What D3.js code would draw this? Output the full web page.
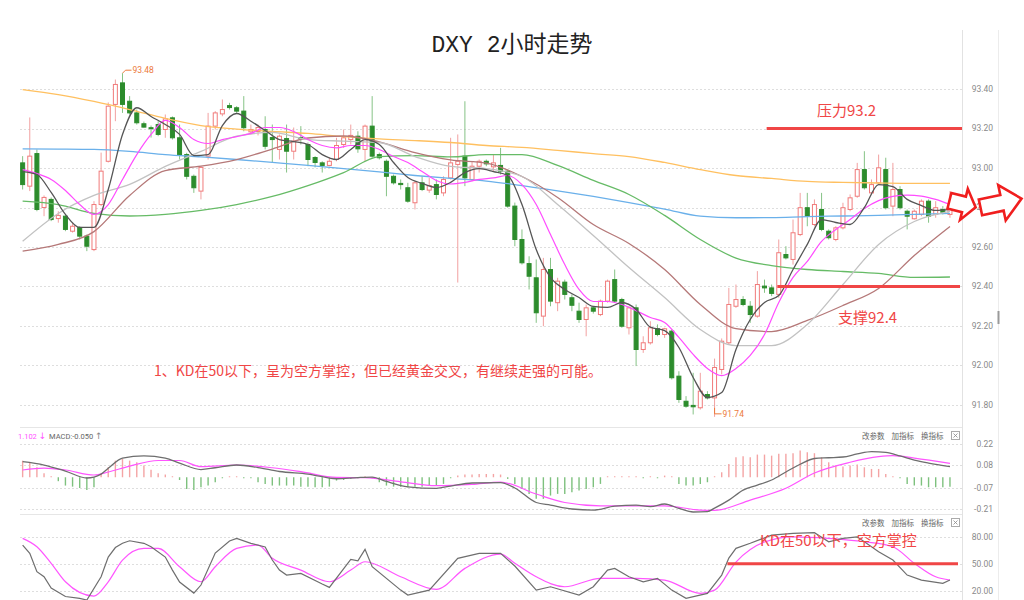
<!DOCTYPE html>
<html><head><meta charset="utf-8">
<script src="https://cdn.jsdelivr.net/npm/d3@7"></script>
<style>body{margin:0;background:#fff;}svg{display:block;}</style>
</head><body>
<svg id="chart" width="1024" height="600"></svg>
<script>
// ---------- DATA ----------
const title = "DXY 2小时走势";
// candles: [open, high, low, close]
const ohlc = [
[93.026,93.060,92.891,92.916],[92.908,93.256,92.883,93.060],[93.073,93.094,92.781,92.790],[92.800,92.861,92.756,92.851],
[92.841,92.851,92.731,92.739],[92.744,92.781,92.723,92.760],[92.756,92.765,92.680,92.689],[92.680,92.724,92.673,92.705],
[92.699,92.705,92.638,92.655],[92.655,92.663,92.579,92.604],[92.587,92.832,92.579,92.815],[92.815,93.078,92.807,92.984],
[93.034,93.332,93.028,93.313],[93.322,93.448,93.237,93.423],[93.431,93.480,93.279,93.322],[93.338,93.364,93.271,93.279],
[93.279,93.296,93.220,93.229],[93.224,93.235,93.205,93.207],[93.204,93.215,93.154,93.202],[93.220,93.237,93.161,93.170],
[93.195,93.271,93.153,93.249],[93.254,93.261,93.144,93.153],[93.153,93.220,93.043,93.068],[93.068,93.077,92.942,92.958],
[92.958,92.967,92.874,92.900],[92.883,93.009,92.841,93.003],[93.060,93.279,93.043,93.212],[93.212,93.288,93.195,93.279],
[93.274,93.347,93.262,93.296],[93.316,93.330,93.296,93.306],[93.305,93.313,93.279,93.288],[93.288,93.364,93.186,93.204],
[93.183,93.220,93.170,93.195],[93.185,93.220,93.165,93.205],[93.195,93.262,93.094,93.110],[93.154,93.220,93.028,93.144],
[93.094,93.170,93.043,93.161],[93.149,93.220,92.977,93.085],[93.085,93.205,93.043,93.136],[93.154,93.212,93.119,93.149],
[93.119,93.129,93.009,93.043],[93.053,93.060,93.003,93.028],[93.026,93.034,92.977,93.013],[93.013,93.053,93.009,93.034],
[93.043,93.153,93.034,93.114],[93.119,93.195,93.102,93.153],[93.144,93.220,93.119,93.165],[93.161,93.186,93.077,93.097],
[93.094,93.220,93.034,93.212],[93.212,93.364,93.052,93.060],[93.068,93.078,93.043,93.052],[93.034,93.043,92.857,92.958],
[92.958,92.967,92.916,92.925],[92.922,92.942,92.891,92.916],[92.900,92.925,92.824,92.832],[92.824,92.933,92.790,92.925],
[92.925,92.958,92.883,92.891],[92.888,92.950,92.874,92.911],[92.916,92.942,92.841,92.866],[92.874,92.958,92.857,92.942],
[92.950,93.153,92.942,93.026],[93.018,93.170,92.420,93.034],[93.060,93.338,92.908,92.950],[92.942,93.034,92.933,93.009],
[93.009,93.043,92.977,93.034],[93.034,93.043,93.009,93.021],[93.006,93.068,92.984,93.026],[93.013,93.102,92.967,92.984],
[92.984,92.992,92.799,92.807],[92.807,92.825,92.604,92.638],[92.638,92.689,92.511,92.520],[92.516,92.553,92.385,92.452],
[92.444,92.537,92.216,92.267],[92.250,92.545,92.199,92.486],[92.486,92.545,92.300,92.326],[92.318,92.444,92.275,92.427],
[92.422,92.435,92.334,92.360],[92.343,92.360,92.275,92.305],[92.275,92.318,92.216,92.233],[92.233,92.309,92.148,92.292],
[92.292,92.300,92.263,92.275],[92.258,92.334,92.250,92.326],[92.326,92.435,92.318,92.427],[92.435,92.486,92.318,92.326],
[92.334,92.343,92.191,92.199],[92.191,92.300,92.157,92.292],[92.292,92.309,91.997,92.081],[92.081,92.148,92.064,92.115],
[92.115,92.224,92.106,92.191],[92.186,92.208,92.148,92.157],[92.157,92.191,92.140,92.186],[92.174,92.182,91.929,91.938],
[91.946,91.971,91.811,91.828],[91.819,91.845,91.786,91.794],[91.798,91.963,91.752,91.791],[91.786,91.963,91.777,91.870],
[91.853,91.870,91.828,91.836],[91.836,92.035,91.740,91.990],[91.980,92.137,91.955,92.123],[92.115,92.393,92.106,92.309],
[92.300,92.410,92.292,92.334],[92.334,92.351,92.300,92.309],[92.300,92.326,92.216,92.258],[92.250,92.478,92.242,92.410],
[92.402,92.435,92.368,92.393],[92.393,92.410,92.351,92.365],[92.360,92.638,92.343,92.571],[92.562,92.604,92.537,92.545],
[92.537,92.739,92.511,92.672],[92.663,92.874,92.655,92.799],[92.799,92.874,92.705,92.756],[92.714,92.841,92.705,92.815],
[92.790,92.874,92.680,92.689],[92.680,92.689,92.638,92.647],[92.638,92.705,92.629,92.697],[92.697,92.824,92.689,92.799],
[92.790,92.866,92.781,92.849],[92.857,93.026,92.849,92.992],[92.992,93.085,92.891,92.900],[92.874,92.942,92.866,92.916],
[92.925,93.068,92.916,93.001],[92.992,93.052,92.790,92.799],[92.807,93.026,92.756,92.891],[92.891,92.908,92.790,92.799],
[92.781,92.790,92.689,92.756],[92.743,92.790,92.739,92.781],[92.765,92.841,92.756,92.832],[92.832,92.841,92.723,92.756],
[92.765,92.832,92.748,92.799],[92.790,92.807,92.765,92.776],[92.765,92.883,92.748,92.799]
];
// moving averages: [candle index, value]
const ma5 = [[0,92.982],[2,92.967],[4,92.876],[6,92.765],[8,92.699],[10,92.699],[12,92.891],[14,93.170],[16,93.305],[18,93.261],[20,93.220],[22,93.170],[24,93.063],[26,93.068],[28,93.215],[30,93.276],[32,93.237],[34,93.190],[36,93.144],[38,93.134],[40,93.119],[42,93.068],[44,93.043],[46,93.094],[48,93.144],[50,93.119],[52,93.028],[54,92.952],[56,92.922],[58,92.901],[60,92.927],[62,92.977],[64,92.997],[66,92.982],[68,92.962],[70,92.815],[72,92.587],[74,92.446],[76,92.385],[78,92.344],[80,92.299],[82,92.294],[84,92.319],[86,92.284],[88,92.194],[90,92.177],[92,92.091],[94,91.939],[96,91.838],[98,91.863],[100,92.081],[102,92.233],[104,92.319],[106,92.354],[108,92.486],[110,92.613],[112,92.739],[114,92.724],[116,92.714],[118,92.800],[120,92.916],[122,92.906],[124,92.841],[126,92.810],[128,92.785],[130,92.790]];
const ma10 = [[0,92.992],[2,92.972],[4,92.942],[6,92.886],[8,92.815],[10,92.765],[12,92.815],[14,92.942],[16,93.068],[18,93.170],[20,93.241],[22,93.205],[24,93.144],[26,93.124],[28,93.144],[30,93.159],[32,93.175],[34,93.205],[36,93.205],[38,93.185],[40,93.144],[42,93.114],[44,93.102],[46,93.114],[48,93.114],[50,93.094],[52,93.058],[54,93.028],[56,92.982],[58,92.937],[60,92.919],[62,92.927],[64,92.942],[66,92.950],[68,92.962],[70,92.916],[72,92.815],[74,92.663],[76,92.511],[78,92.385],[80,92.324],[82,92.324],[84,92.309],[86,92.278],[88,92.243],[90,92.218],[92,92.142],[94,92.056],[96,91.985],[98,91.949],[100,91.985],[102,92.051],[104,92.157],[106,92.319],[108,92.446],[110,92.527],[112,92.628],[114,92.689],[116,92.739],[118,92.795],[120,92.835],[122,92.856],[124,92.863],[126,92.858],[128,92.841],[130,92.815]];
const ma20 = [[0,92.629],[5,92.770],[10,92.861],[15,92.917],[20,93.008],[25,93.084],[30,93.161],[35,93.180],[40,93.144],[45,93.136],[50,93.129],[55,93.058],[60,93.008],[65,92.997],[70,92.957],[75,92.815],[80,92.658],[85,92.496],[90,92.344],[95,92.182],[100,92.101],[105,92.101],[110,92.208],[115,92.410],[120,92.613],[125,92.729],[130,92.780]];
const ma30 = [[0,92.579],[5,92.613],[10,92.678],[15,92.861],[20,92.987],[25,93.009],[30,93.043],[35,93.096],[40,93.152],[45,93.162],[50,93.132],[55,93.078],[60,93.041],[65,93.025],[70,92.957],[75,92.851],[80,92.714],[85,92.618],[90,92.486],[95,92.309],[100,92.187],[105,92.172],[110,92.228],[115,92.304],[120,92.390],[125,92.557],[130,92.704]];
const ma60 = [[0,92.832],[5,92.815],[10,92.770],[15,92.757],[20,92.765],[25,92.785],[30,92.815],[35,92.856],[40,92.911],[45,92.977],[50,93.058],[55,93.063],[60,93.056],[65,93.068],[70,93.068],[75,93.013],[80,92.937],[85,92.866],[90,92.760],[95,92.638],[100,92.544],[105,92.506],[110,92.486],[115,92.476],[120,92.466],[125,92.446],[130,92.448]];
const ma120 = [[0,93.097],[5,93.096],[10,93.094],[15,93.084],[20,93.068],[25,93.056],[30,93.043],[35,93.028],[40,93.013],[45,92.997],[50,92.980],[55,92.962],[60,92.947],[65,92.934],[70,92.911],[75,92.884],[80,92.856],[85,92.825],[90,92.792],[95,92.756],[100,92.748],[105,92.749],[110,92.754],[115,92.757],[120,92.760],[125,92.765],[130,92.770]];
const ma250 = [[0,93.397],[5,93.372],[10,93.337],[15,93.296],[20,93.251],[25,93.215],[30,93.197],[35,93.185],[40,93.175],[45,93.159],[50,93.147],[55,93.139],[60,93.129],[65,93.114],[70,93.104],[75,93.089],[80,93.073],[85,93.058],[90,93.028],[95,92.992],[100,92.962],[105,92.947],[110,92.932],[115,92.927],[120,92.924],[125,92.922],[130,92.922]];
// MACD
const macdHist = [0.110,0.099,0.066,0.026,0.002,-0.026,-0.055,-0.062,-0.071,-0.084,-0.066,0.022,0.066,0.110,0.121,0.110,0.099,0.077,0.049,0.026,
0.018,0.002,-0.018,-0.077,-0.084,-0.066,-0.055,-0.033,-0.004,0.004,0.001,-0.001,-0.004,-0.033,-0.044,-0.055,-0.055,-0.055,-0.055,-0.062,
-0.062,-0.066,-0.066,-0.062,-0.022,-0.018,-0.011,-0.002,0.002,-0.004,-0.033,-0.055,-0.062,-0.062,-0.066,-0.062,-0.062,-0.055,-0.055,-0.044,
-0.004,0.011,0.018,0.018,0.022,0.022,0.022,0.018,-0.011,-0.044,-0.077,-0.110,-0.143,-0.143,-0.121,-0.110,-0.110,-0.099,-0.088,-0.077,
-0.066,-0.044,0.000,0.004,0.000,0.007,0.000,-0.007,0.002,-0.002,0.011,0.000,-0.044,-0.055,-0.055,-0.044,-0.033,0.000,0.033,0.088,
0.132,0.139,0.132,0.150,0.150,0.143,0.155,0.155,0.159,0.177,0.166,0.159,0.132,0.099,0.077,0.071,0.077,0.084,0.066,0.055,
0.055,0.022,0.007,-0.004,-0.044,-0.055,-0.055,-0.066,-0.066,-0.066,-0.062];
const macdDif = [[0,0.103],[3,0.081],[6,0.041],[9,-0.005],[11,0.021],[12,0.059],[14,0.127],[17,0.141],[20,0.127],[22,0.094],[25,0.051],[27,0.063],[30,0.081],[33,0.064],[36,0.038],[40,0.021],[44,-0.010],[47,-0.002],[49,0.001],[51,-0.028],[54,-0.063],[58,-0.073],[60,-0.058],[63,-0.038],[67,-0.035],[69,-0.071],[72,-0.167],[74,-0.184],[77,-0.210],[80,-0.217],[83,-0.191],[86,-0.184],[88,-0.194],[90,-0.177],[92,-0.206],[94,-0.230],[96,-0.227],[97,-0.204],[99,-0.151],[101,-0.085],[103,-0.052],[105,-0.018],[107,0.035],[109,0.086],[111,0.124],[113,0.129],[115,0.134],[117,0.154],[119,0.169],[121,0.164],[123,0.141],[125,0.114],[127,0.094],[130,0.070]];
const macdDea = [[0,0.048],[3,0.061],[6,0.048],[10,0.015],[12,0.035],[15,0.074],[19,0.111],[22,0.111],[25,0.070],[30,0.081],[35,0.063],[39,0.037],[44,-0.001],[48,-0.003],[53,-0.030],[58,-0.056],[63,-0.047],[67,-0.032],[72,-0.111],[76,-0.167],[81,-0.189],[86,-0.189],[90,-0.189],[95,-0.217],[97,-0.219],[102,-0.151],[107,-0.073],[111,0.028],[116,0.099],[120,0.136],[122,0.143],[125,0.127],[130,0.092]];
// KD
const kdK = [[0,70.8],[1,61.6],[2,41.3],[3,35.7],[4,23.3],[6,13.9],[8,11.9],[9,10],[11,35.7],[12,57.5],[13,68],[14,72.7],[15,75.5],[17,72.7],[18,68.9],[20,57.5],[21,43.1],[22,29.9],[24,17.7],[25,26.6],[27,61.9],[29,75.2],[30,78.2],[32,72.7],[34,68.6],[35,54.2],[36,43.1],[37,37.6],[39,39.5],[42,27.7],[43,24],[46,55],[47,53.4],[48,66],[49,46.8],[53,21],[54,15.5],[57,21],[61,56.1],[64,61.6],[67,61.6],[69,47.6],[72,21],[74,24.7],[78,15.5],[80,24.7],[82,43.1],[83,45],[85,35.7],[87,30.2],[89,34],[91,21],[93,11.9],[96,17.4],[98,37.6],[99,56.4],[100,67.1],[102,72.7],[105,81.8],[108,83.7],[111,84.4],[113,74.4],[115,78.2],[117,79.9],[120,63.4],[122,54.2],[124,37.6],[126,32.1],[129,28.5],[130,32.1]];
const kdD = [[0,78.2],[2,68.9],[4,50.6],[6,30.2],[10,14.4],[12,30.2],[14,54.2],[17,67.1],[19,67.1],[22,46.8],[25,30.2],[27,46.8],[30,67.1],[33,70.8],[35,56.1],[39,43.1],[43,30.2],[46,43.1],[48,52.3],[53,35.7],[58,21.8],[62,45],[67,60.8],[69,50.6],[72,35.7],[76,24.7],[81,34],[86,34],[90,32.1],[95,17.4],[97,21],[100,52],[104,74.1],[108,79.9],[113,78.2],[118,74.4],[122,68.9],[125,50.6],[128,35.7],[130,32.1]];
// ticks
const priceTicks = [93.4,93.2,93.0,92.8,92.6,92.4,92.2,92.0,91.8];
const macdTicks = [0.22,0.08,-0.07,-0.21];
const kdTicks = [80,50,20];
// annotations
const resistance = {value:93.2, from:104.3, label:"压力93.2"};
const support = {value:92.4, from:105.8, label:"支撑92.4"};
const kdLevel = {value:50, from:98.8, label:"KD在50以下，空方掌控"};
const note = "1、KD在50以下，呈为空方掌控，但已经黄金交叉，有继续走强的可能。";
const highMark = {i:14, v:93.48, label:"93.48"};
const lowMark = {i:97, v:91.74, label:"91.74"};
const toolLabels = ["改参数","加指标","换指标"];

// ---------- SCALES ----------
const svg = d3.select('#chart');
const N = ohlc.length;
const x = d3.scaleBand().domain(d3.range(N)).range([18, 954.6]).padding(0.3);
const cx = i => x(0) + x.step()*i + x.bandwidth()/2;
const yP = d3.scaleLinear().domain([91.8, 93.4]).range([405, 89]);
const yM = d3.scaleLinear().domain([-0.21, 0.22]).range([509, 444]);
const yK = d3.scaleLinear().domain([20, 80]).range([591, 536.7]);
const plotL = 20, plotR = 962;
const RED = '#f04646';
const cjk = '"Noto Sans CJK SC", sans-serif';

// ---------- FRAME / GRID ----------
const grid = svg.append('g');
function hGrid(ticks, sc){
  grid.append('g').selectAll('line').data(ticks).join('line')
    .attr('x1', plotL).attr('x2', plotR).attr('y1', d=>Math.round(sc(d))+0.5).attr('y2', d=>Math.round(sc(d))+0.5)
    .attr('stroke', '#dedede').attr('stroke-dasharray', '2,2');
}
hGrid(priceTicks, yP); hGrid(macdTicks, yM); hGrid(kdTicks, yK);
[427.5, 514.5].forEach(y => grid.append('line').attr('x1', plotL).attr('x2', plotR).attr('y1', y).attr('y2', y).attr('stroke', '#e6e6e6'));
grid.append('line').attr('x1', 962.5).attr('x2', 962.5).attr('y1', 30).attr('y2', 600).attr('stroke', '#e2e2e2');
grid.append('line').attr('x1', 998.5).attr('x2', 998.5).attr('y1', 30).attr('y2', 600).attr('stroke', '#ececec');
grid.append('rect').attr('x', 997.5).attr('y', 311).attr('width', 2).attr('height', 13).attr('fill', '#9a9a9a');

// axis labels
function axisLabels(ticks, sc, fmt){
  svg.append('g').selectAll('text').data(ticks).join('text')
    .attr('x', 993).attr('y', d=>sc(d)).attr('dy', '0.35em').attr('text-anchor', 'end')
    .attr('font-family', 'Roboto, sans-serif').attr('font-size', 8.5).attr('fill', '#8a8a8a')
    .text(fmt);
}
axisLabels(priceTicks, yP, d=>d.toFixed(2));
axisLabels(macdTicks, yM, d=>d.toFixed(2));
axisLabels(kdTicks, yK, d=>d.toFixed(2));

// title
svg.append('text').attr('x', 512).attr('y', 52).attr('text-anchor', 'middle')
  .attr('font-family', '"Liberation Mono", "Noto Sans CJK SC", monospace').attr('font-size', 23).attr('fill', '#222')
  .text(title);

// ---------- CANDLES ----------
const cd = ohlc.map((d,i)=>({i, o:d[0], h:d[1], l:d[2], c:d[3], up:d[3] >= d[0]}));
const gC = svg.append('g');
gC.selectAll('line').data(cd).join('line')
  .attr('x1', d=>cx(d.i)).attr('x2', d=>cx(d.i)).attr('y1', d=>yP(d.h)).attr('y2', d=>yP(d.l))
  .attr('stroke', d=>d.up ? '#f2a0a0' : '#86c386').attr('stroke-width', 1);
gC.selectAll('rect').data(cd).join('rect')
  .attr('x', d=>x(d.i)+0.5).attr('width', x.bandwidth()-1)
  .attr('y', d=>yP(Math.max(d.o, d.c))).attr('height', d=>Math.max(1, Math.abs(yP(d.o)-yP(d.c))))
  .attr('fill', d=>d.up ? '#fff' : '#2c8c2c').attr('stroke', d=>d.up ? '#f07a7a' : '#2c8c2c').attr('stroke-width', 1);

// ---------- MOVING AVERAGES ----------
const lineP = d3.line().x(d=>cx(d[0])).y(d=>yP(d[1])).curve(d3.curveMonotoneX);
const maSeries = [
  {data:ma250, color:'#ffc060', w:1.3}, {data:ma120, color:'#6ab0ea', w:1.3}, {data:ma60, color:'#66bb66', w:1.3},
  {data:ma30, color:'#b57878', w:1.3}, {data:ma20, color:'#c2c2c2', w:1.3}, {data:ma10, color:'#ff4cff', w:1.2},
  {data:ma5, color:'#555555', w:1.3}
];
svg.append('g').selectAll('path').data(maSeries).join('path')
  .attr('d', s=>lineP(s.data)).attr('fill', 'none').attr('stroke', s=>s.color).attr('stroke-width', s=>s.w);

// high / low markers
const mk = svg.append('g').attr('font-family', 'Roboto, sans-serif').attr('font-size', 8.5).attr('fill', '#ec7a3c');
{
  const hx = cx(highMark.i), hy = yP(highMark.v);
  mk.append('path').attr('d', `M${hx},${hy} L${hx+3},${hy-3} L${hx+9},${hy-3}`).attr('stroke', '#ec7a3c').attr('fill', 'none');
  mk.append('text').attr('x', hx+10).attr('y', hy-3).attr('dy', '0.35em').text(highMark.label);
  const lx = cx(lowMark.i), ly = yP(lowMark.v) - 3;
  mk.append('path').attr('d', `M${lx},${ly-6} L${lx},${ly} L${lx+7},${ly}`).attr('stroke', '#ec7a3c').attr('fill', 'none');
  mk.append('text').attr('x', lx+8).attr('y', ly).attr('dy', '0.35em').text(lowMark.label);
}

// ---------- MACD ----------
const gM = svg.append('g');
gM.selectAll('line').data(macdHist).join('line')
  .attr('x1', (d,i)=>cx(i)).attr('x2', (d,i)=>cx(i))
  .attr('y1', yM(0)).attr('y2', d=> Math.abs(yM(d)-yM(0)) < 1 ? yM(0) - (d>=0?1:-1) : yM(d))
  .attr('stroke', d=>d >= 0 ? '#f4a4a4' : '#7ec17e').attr('stroke-width', 1.4);
const lineM = d3.line().x(d=>cx(d[0])).y(d=>yM(d[1])).curve(d3.curveMonotoneX);
gM.append('path').attr('d', lineM(macdDea)).attr('fill', 'none').attr('stroke', '#ff55ff').attr('stroke-width', 1.2);
gM.append('path').attr('d', lineM(macdDif)).attr('fill', 'none').attr('stroke', '#6e6e6e').attr('stroke-width', 1.3);

// MACD header
const hdr = svg.append('text').attr('x', 18).attr('y', 439).attr('font-family', 'Roboto, sans-serif').attr('font-size', 7.5);
hdr.append('tspan').attr('fill', '#ff55ff').text('1.102 ');
hdr.append('tspan').attr('fill', '#ff55ff').attr('font-family', '"DejaVu Sans", sans-serif').attr('font-size', 9).text('↓ ');
hdr.append('tspan').attr('fill', '#666').text('MACD:-0.050 ');
hdr.append('tspan').attr('fill', '#888').attr('font-family', '"DejaVu Sans", sans-serif').attr('font-size', 9).text('↑');

function toolBar(y){
  const g = svg.append('g').attr('font-family', cjk).attr('font-size', 7.5).attr('fill', '#666');
  g.selectAll('text').data(toolLabels).join('text').attr('x', (d,i)=>862 + i*29.5).attr('y', y).text(d=>d);
  g.append('rect').attr('x', 951.5).attr('y', y-7.5).attr('width', 8).attr('height', 8).attr('fill', '#fff').attr('stroke', '#aaa');
  g.append('path').attr('d', `M953.5,${y-5.5} L957.5,${y-1.5} M957.5,${y-5.5} L953.5,${y-1.5}`).attr('stroke', '#888').attr('stroke-width', 0.8);
}
toolBar(439);
toolBar(526);

// ---------- KD ----------
const gK = svg.append('g');
const lineKs = d3.line().x(d=>cx(d[0])).y(d=>yK(d[1])).curve(d3.curveMonotoneX);
const lineKl = d3.line().x(d=>cx(d[0])).y(d=>yK(d[1]));
gK.append('path').attr('d', lineKs(kdD)).attr('fill', 'none').attr('stroke', '#ff55ff').attr('stroke-width', 1.2);
gK.append('path').attr('d', lineKl(kdK)).attr('fill', 'none').attr('stroke', '#6e6e6e').attr('stroke-width', 1.2);

// ---------- ANNOTATIONS ----------
const ann = svg.append('g');
ann.append('line').attr('x1', cx(resistance.from)).attr('x2', plotR).attr('y1', yP(resistance.value)).attr('y2', yP(resistance.value))
  .attr('stroke', RED).attr('stroke-width', 3);
ann.append('line').attr('x1', cx(support.from)).attr('x2', 960).attr('y1', yP(support.value)).attr('y2', yP(support.value))
  .attr('stroke', RED).attr('stroke-width', 3);
ann.append('line').attr('x1', cx(kdLevel.from)).attr('x2', 958).attr('y1', yK(kdLevel.value)).attr('y2', yK(kdLevel.value))
  .attr('stroke', RED).attr('stroke-width', 3);
const at = ann.append('g').attr('font-family', cjk).attr('fill', RED);
at.append('text').attr('x', 817).attr('y', yP(resistance.value)-13).attr('font-size', 15).text(resistance.label);
at.append('text').attr('x', 838).attr('y', yP(support.value)+36).attr('font-size', 15).text(support.label);
at.append('text').attr('x', 760).attr('y', 546).attr('font-size', 15).text(kdLevel.label);
at.append('text').attr('x', 154).attr('y', 376).attr('font-size', 14).text(note);

// arrows
function arrow(x0, x1, x2, cy, h1, h2, rot){
  ann.append('path')
    .attr('d', `M${x0},${cy-h1} L${x1},${cy-h1} L${x1},${cy-h2} L${x2},${cy} L${x1},${cy+h2} L${x1},${cy+h1} L${x0},${cy+h1} Z`)
    .attr('transform', `rotate(${rot},${(x0+x2)/2},${cy})`)
    .attr('fill', '#fff').attr('stroke', '#f01e1e').attr('stroke-width', 2.6).attr('stroke-linejoin', 'miter');
}
arrow(949, 964, 976, 204, 8, 16, 14);
arrow(980, 1002, 1022, 203, 8, 18, -12);
</script>
</body></html>
